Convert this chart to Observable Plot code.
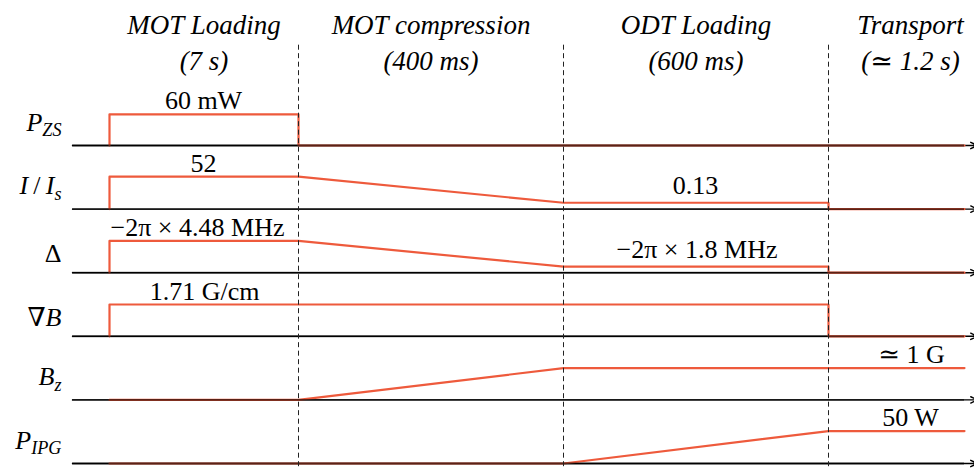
<!DOCTYPE html>
<html>
<head>
<meta charset="utf-8">
<script src="https://cdn.jsdelivr.net/npm/d3@7"></script>
<script src="https://cdn.jsdelivr.net/npm/@observablehq/plot@0.6"></script>
<style>
  html, body { margin: 0; padding: 0; background: #fff; }
</style>
</head>
<body>
<div id="chart"></div>
<script>
// ---- Phases (schematic time axis, arbitrary units) ----
const phaseNames = ["MOT Loading", "MOT compression", "ODT Loading", "Transport"];
const phaseDurations = ["(7 s)", "(400 ms)", "(600 ms)", "(≃ 1.2 s)"];
const phaseCenters = [0.945, 3.215, 5.865, 8.01];
const dividers = [1.89, 4.54, 7.19];
const axisStart = -0.37;
const axisEnd = 8.68;

// ---- Signals (top to bottom) and their lane index ----
const signals = ["P_{ZS}", "I / I_{s}", "Δ", "∇B", "B_{z}", "P_{IPG}"];
const lanes = [5, 4, 3, 2, 1, 0];

// ---- Waveforms: times and relative levels ----
const pzsT = [0, 0, 1.89, 1.89, 8.55];
const pzsV = [0, 0.49, 0.49, 0, 0];
const iisT = [0, 0, 1.89, 4.54, 7.19, 7.19, 8.55];
const iisV = [0, 0.51, 0.51, 0.1, 0.1, 0, 0];
const detT = [0, 0, 1.89, 4.54, 7.19, 7.19, 8.55];
const detV = [0, 0.5, 0.5, 0.095, 0.095, 0, 0];
const gradT = [0, 0, 7.19, 7.19, 8.55];
const gradV = [0, 0.5, 0.5, 0, 0];
const bzT = [0, 1.89, 4.54, 8.55];
const bzV = [0, 0, 0.5, 0.5];
const ipgT = [0, 4.54, 7.19, 8.55];
const ipgV = [0, 0, 0.51, 0.51];
const waveT = [pzsT, iisT, detT, gradT, bzT, ipgT];
const waveV = [pzsV, iisV, detV, gradV, bzV, ipgV];

// ---- Value annotations ----
const valueText = ["60 mW", "52", "−2π × 4.48 MHz", "1.71 G/cm", "0.13", "−2π × 1.8 MHz", "≃ 1 G", "50 W"];
const valueSignal = [0, 1, 2, 3, 1, 2, 4, 5];
const valueT = [0.94, 0.94, 0.88, 0.95, 5.86, 5.875, 8.02, 8.01];
const valueLevel = [0.49, 0.51, 0.5, 0.5, 0.16, 0.15, 0.5, 0.51];

// ---- Build tables ----
const wave = signals.flatMap((s, i) =>
  waveT[i].map((t, j) => ({signal: s, t, y: lanes[i] + waveV[i][j]}))
);
const baselines = signals.map((s, i) => ({signal: s, y: lanes[i]}));
const values = valueText.map((text, i) => ({
  text, t: valueT[i], y: lanes[valueSignal[i]] + valueLevel[i]
}));
const phases = phaseNames.map((n, i) => ({label: n + "\n" + phaseDurations[i], t: phaseCenters[i]}));

const FONT = "'Liberation Serif', 'DejaVu Serif', serif";
const FS = 26;
const ORANGE = "#ee5a3c";

const chart = Plot.plot({
  width: 974,
  height: 470,
  marginLeft: 0,
  marginRight: 0,
  marginTop: 0,
  marginBottom: 7,
  x: {domain: [-1.09, 8.65], axis: null},
  y: {domain: [0, 7.28], axis: null},
  style: {fontFamily: FONT, fontSize: FS + "px", background: "#fff", color: "#000", overflow: "hidden"},
  marks: [
    // baselines with arrowheads
    Plot.arrow(baselines, {x1: axisStart, x2: axisEnd, y1: "y", y2: "y", stroke: "#000", strokeWidth: 1.4, headLength: 8, headAngle: 50, bend: 0}),
    // waveforms
    Plot.line(wave, {x: "t", y: "y", z: "signal", stroke: ORANGE, strokeWidth: 2.2, curve: "linear"}),
    // baseline overlay (darkens overlap)
    Plot.ruleY(baselines, {y: "y", x1: axisStart, x2: 8.55, stroke: "#000", strokeWidth: 1.8, strokeOpacity: 0.62}),
    // phase dividers
    Plot.ruleX(dividers, {x: d => d, y1: -0.05, y2: 6.61, stroke: "#222", strokeWidth: 1, strokeDasharray: "5,3.5"}),
    // phase headers
    Plot.text(phases, {x: "t", text: "label", frameAnchor: "top", lineAnchor: "top", dy: 9, lineHeight: 1.3, fontStyle: "italic", fontSize: 27, fill: "#000"}),
    // value annotations
    Plot.text(values, {x: "t", y: "y", text: "text", lineAnchor: "bottom", dy: -5, fontSize: FS, fill: "#000"}),
    // signal labels
    Plot.text(baselines, {y: d => d.y + 0.3, text: "signal", frameAnchor: "left", dx: 61, textAnchor: "end", fontSize: FS, fill: "#000"})
  ]
});

document.getElementById("chart").appendChild(chart);

// Render simple math markup for the signal labels (italic symbols, subscripts)
const upright = new Set(["Δ", "∇", "/", " "]);
const signalSet = new Set(signals);
d3.select(chart).selectAll("text").each(function () {
  const raw = this.textContent;
  if (!signalSet.has(raw)) return;
  const el = d3.select(this);
  const m = raw.match(/^(.*?)(?:_\{(.*)\})?$/);
  const main = m[1], sub = m[2];
  el.text(null);
  for (const ch of main) {
    el.append("tspan")
      .attr("font-style", upright.has(ch) ? "normal" : "italic")
      .attr("font-weight", ch === "∇" ? "300" : null)
      .text(ch === " " ? "\u2009" : ch);
  }
  if (sub) {
    el.append("tspan").attr("font-style", "italic").attr("font-size", "0.7em").attr("dy", "0.3em").text(sub);
    const tr = el.attr("transform") || "";
    el.attr("transform", tr + " translate(0,-4)");
  }
});
</script>
</body>
</html>
